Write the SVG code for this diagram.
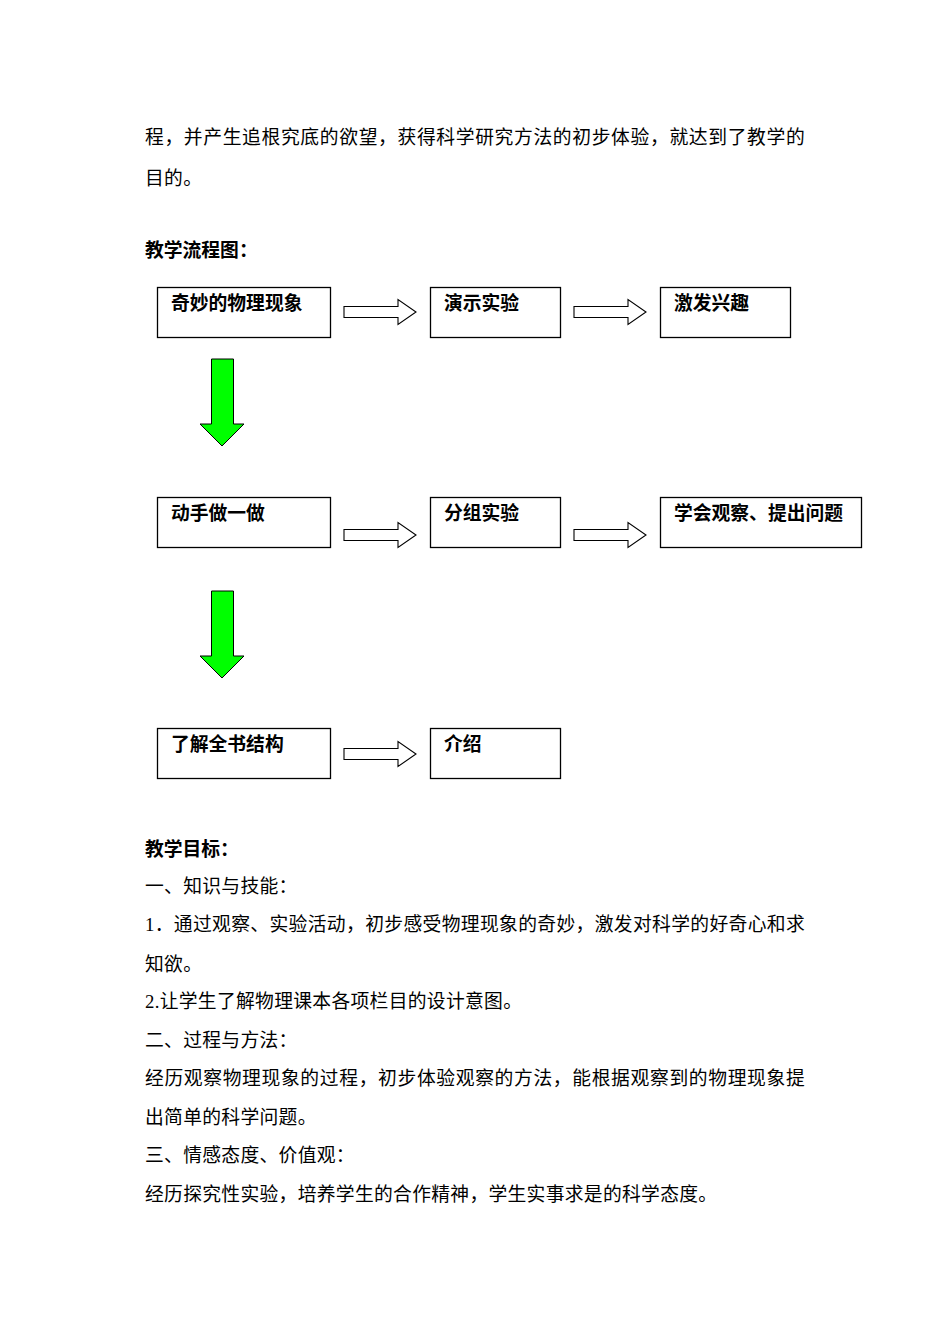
<svg xmlns="http://www.w3.org/2000/svg" width="950" height="1344" viewBox="0 0 950 1344">
<style>
.t{font-family:"Liberation Serif","Noto Sans CJK SC",serif;font-size:18.8px;letter-spacing:0.3px;fill:#000}
.b{font-family:"Liberation Sans","Noto Sans CJK SC",sans-serif;font-size:18.8px;font-weight:bold;fill:#000}
.box{fill:#fff;stroke:#000;stroke-width:1.3}
.ha{fill:#fff;stroke:#000;stroke-width:1.1}
.va{fill:#00ff00;stroke:#000;stroke-width:1}
</style>
<defs>
<path id="harrow" d="M0,-5.5 H54 V-12.5 L72,0 L54,12.5 V5.5 H0 Z"/>
<path id="varrow" d="M-10.5,0 H11.5 V65 H22 L0,87 L-22,65 H-10.5 Z"/>
</defs>
<rect width="950" height="1344" fill="#fff"/>
<text class="t" x="145" y="144" textLength="660" lengthAdjust="spacing">程，并产生追根究底的欲望，获得科学研究方法的初步体验，就达到了教学的</text>
<text class="t" x="145" y="185">目的。</text>
<text class="b" x="145" y="257">教学流程图：</text>

<g id="connectors">
<use href="#harrow" class="ha" x="344" y="312"/>
<use href="#harrow" class="ha" x="574" y="312"/>
<use href="#harrow" class="ha" x="344" y="535"/>
<use href="#harrow" class="ha" x="574" y="535"/>
<use href="#harrow" class="ha" x="344" y="754"/>
<use href="#varrow" class="va" x="222" y="359"/>
<use href="#varrow" class="va" x="222" y="591"/>
</g>

<g id="n1"><rect class="box" x="157.5" y="287.5" width="173" height="50"/><text class="b" x="171" y="310">奇妙的物理现象</text></g>
<g id="n2"><rect class="box" x="430.5" y="287.5" width="130" height="50"/><text class="b" x="444" y="310">演示实验</text></g>
<g id="n3"><rect class="box" x="660.5" y="287.5" width="130" height="50"/><text class="b" x="674" y="310">激发兴趣</text></g>
<g id="n4"><rect class="box" x="157.5" y="497.5" width="173" height="50"/><text class="b" x="171" y="520">动手做一做</text></g>
<g id="n5"><rect class="box" x="430.5" y="497.5" width="130" height="50"/><text class="b" x="444" y="520">分组实验</text></g>
<g id="n6"><rect class="box" x="660.5" y="497.5" width="201" height="50"/><text class="b" x="674" y="520">学会观察、提出问题</text></g>
<g id="n7"><rect class="box" x="157.5" y="728.5" width="173" height="50"/><text class="b" x="171" y="751">了解全书结构</text></g>
<g id="n8"><rect class="box" x="430.5" y="728.5" width="130" height="50"/><text class="b" x="444" y="751">介绍</text></g>

<text class="b" x="145" y="856">教学目标：</text>
<text class="t" x="145" y="893">一、知识与技能：</text>
<text class="t" x="145" y="931" textLength="660" lengthAdjust="spacing">1．通过观察、实验活动，初步感受物理现象的奇妙，激发对科学的好奇心和求</text>
<text class="t" x="145" y="971">知欲。</text>
<text class="t" x="145" y="1008">2.让学生了解物理课本各项栏目的设计意图。</text>
<text class="t" x="145" y="1047">二、过程与方法：</text>
<text class="t" x="145" y="1085" textLength="660" lengthAdjust="spacing">经历观察物理现象的过程，初步体验观察的方法，能根据观察到的物理现象提</text>
<text class="t" x="145" y="1124">出简单的科学问题。</text>
<text class="t" x="145" y="1162">三、情感态度、价值观：</text>
<text class="t" x="145" y="1201">经历探究性实验，培养学生的合作精神，学生实事求是的科学态度。</text>
</svg>
